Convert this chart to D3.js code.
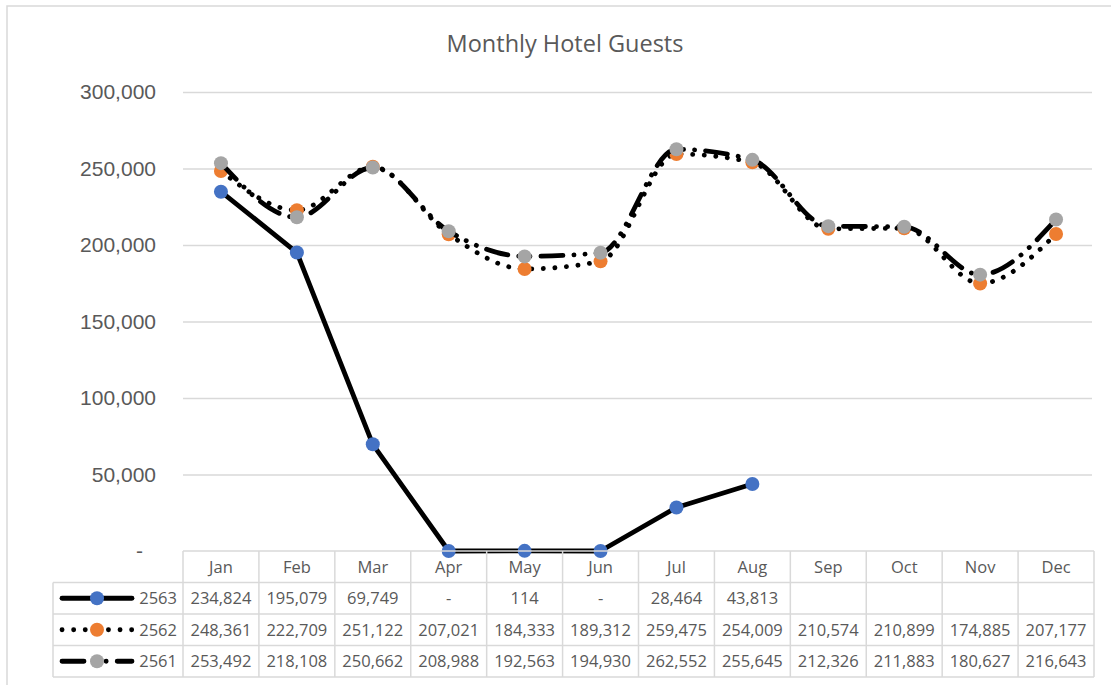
<!DOCTYPE html>
<html>
<head>
<meta charset="utf-8">
<script src="https://cdn.jsdelivr.net/npm/d3@7"></script>
<style>
  body { margin: 0; background: #fff; }
  svg { display: block; font-family: "Open Sans", "Noto Sans", sans-serif; }
  .grid line { stroke: #d9d9d9; stroke-width: 1.3; }
  .grid text { fill: #595959; font-size: 21px; }
  .cell-line { stroke: #d9d9d9; stroke-width: 1.5; }
  .cell-text { fill: #595959; font-size: 16.5px; }
</style>
</head>
<body>
<svg id="chart"></svg>
<script>
// chart data
const months = ['Jan', 'Feb', 'Mar', 'Apr', 'May', 'Jun', 'Jul', 'Aug', 'Sep', 'Oct', 'Nov', 'Dec'];
const seriesNames = ['2563', '2562', '2561'];
const guests2563 = [234824, 195079, 69749, 0, 114, 0, 28464, 43813, null, null, null, null];
const guests2562 = [248361, 222709, 251122, 207021, 184333, 189312, 259475, 254009, 210574, 210899, 174885, 207177];
const guests2561 = [253492, 218108, 250662, 208988, 192563, 194930, 262552, 255645, 212326, 211883, 180627, 216643];
const yTicks = [0, 50000, 100000, 150000, 200000, 250000, 300000];

const width = 1111, height = 685;
const plot = { left: 183, right: 1094, top: 92, bottom: 551 };
const rowH = 31.5;

const smooth = d3.curveMonotoneX;
const series = [
    { name: seriesNames[0], values: guests2563, color: '#4472C4', dash: null, curve: d3.curveLinear },
    { name: seriesNames[1], values: guests2562, color: '#ED7D31', dash: '0.1 11.5', curve: smooth },
    { name: seriesNames[2], values: guests2561, color: '#A5A5A5', dash: '22 11 0.1 11 0.1 11', curve: smooth }
];

const svg = d3.select('#chart').attr('width', width).attr('height', height);

// chart border
svg.append('rect')
    .attr('x', 7).attr('y', 6)
    .attr('width', width).attr('height', height)
    .attr('fill', 'none').attr('stroke', '#d9d9d9').attr('stroke-width', 1.5);

svg.append('text')
    .attr('x', 565).attr('y', 52)
    .attr('text-anchor', 'middle')
    .attr('fill', '#595959')
    .style('font-size', '23.5px')
    .text('Monthly Hotel Guests');

const x = d3.scaleBand().domain(months).range([plot.left, plot.right]);
const y = d3.scaleLinear().domain([0, 300000]).range([plot.bottom, plot.top]);

const fmt = d3.format(',');
const yAxis = d3.axisLeft(y)
    .tickValues(yTicks)
    .tickSize(-(plot.right - 2 - plot.left))
    .tickPadding(27)
    .tickFormat(d => d === 0 ? '-' : fmt(d));

const gy = svg.append('g')
    .attr('class', 'grid')
    .attr('transform', `translate(${plot.left},0)`)
    .call(yAxis);
gy.select('.domain').remove();
gy.selectAll('.tick').filter(d => d === 0).select('line').remove();
gy.selectAll('.tick').filter(d => d === 0).select('text').attr('dx', -13);

// lines and markers
const cx = m => x(m) + x.bandwidth() / 2;

series.forEach(s => {
    const pts = months.map((m, i) => ({ m, v: s.values[i] })).filter(p => p.v !== null);
    const line = d3.line()
        .x(p => cx(p.m))
        .y(p => y(p.v))
        .curve(s.curve);
    svg.append('path')
        .datum(pts)
        .attr('d', line)
        .attr('fill', 'none')
        .attr('stroke', '#000')
        .attr('stroke-width', 4.8)
        .attr('stroke-linecap', 'round')
        .attr('stroke-linejoin', 'round')
        .attr('stroke-dasharray', s.dash);
    svg.append('g').selectAll('circle')
        .data(pts)
        .join('circle')
        .attr('cx', p => cx(p.m))
        .attr('cy', p => y(p.v))
        .attr('r', 7)
        .attr('fill', s.color);
});

// data table
const table = svg.append('g');
const legLeft = 53;
const rowsTop = plot.bottom + rowH;
const tableBottom = plot.bottom + rowH * 4;

table.append('line').attr('class', 'cell-line')
    .attr('x1', plot.left).attr('x2', plot.right)
    .attr('y1', plot.bottom).attr('y2', plot.bottom);
for (let r = 1; r <= 4; r++) {
    table.append('line').attr('class', 'cell-line')
        .attr('x1', legLeft).attr('x2', plot.right)
        .attr('y1', plot.bottom + rowH * r).attr('y2', plot.bottom + rowH * r);
}
table.append('line').attr('class', 'cell-line')
    .attr('x1', legLeft).attr('x2', legLeft)
    .attr('y1', rowsTop).attr('y2', tableBottom);
[...months.map(m => x(m)), plot.right].forEach(xx => {
    table.append('line').attr('class', 'cell-line')
        .attr('x1', xx).attr('x2', xx)
        .attr('y1', plot.bottom).attr('y2', tableBottom);
});

table.selectAll('.month')
    .data(months)
    .join('text')
    .attr('class', 'cell-text')
    .attr('x', cx)
    .attr('y', plot.bottom + rowH / 2 + 6)
    .attr('text-anchor', 'middle')
    .text(d => d);

series.forEach((s, si) => {
    const rowY = rowsTop + rowH * si + rowH / 2;
    table.append('line')
        .attr('x1', 62).attr('x2', 132)
        .attr('y1', rowY).attr('y2', rowY)
        .attr('stroke', '#000')
        .attr('stroke-width', 4.8)
        .attr('stroke-linecap', 'round')
        .attr('stroke-dasharray', s.dash);
    table.append('circle')
        .attr('cx', 97).attr('cy', rowY).attr('r', 7)
        .attr('fill', s.color);
    table.append('text')
        .attr('class', 'cell-text')
        .attr('x', 177).attr('y', rowY + 6)
        .attr('text-anchor', 'end')
        .text(s.name);
    table.append('g').selectAll('text')
        .data(months.map((m, i) => ({ m, v: s.values[i] })).filter(p => p.v !== null))
        .join('text')
        .attr('class', 'cell-text')
        .attr('x', p => cx(p.m))
        .attr('y', rowY + 6)
        .attr('text-anchor', 'middle')
        .text(p => p.v === 0 ? '-' : fmt(p.v));
});
</script>
</body>
</html>
